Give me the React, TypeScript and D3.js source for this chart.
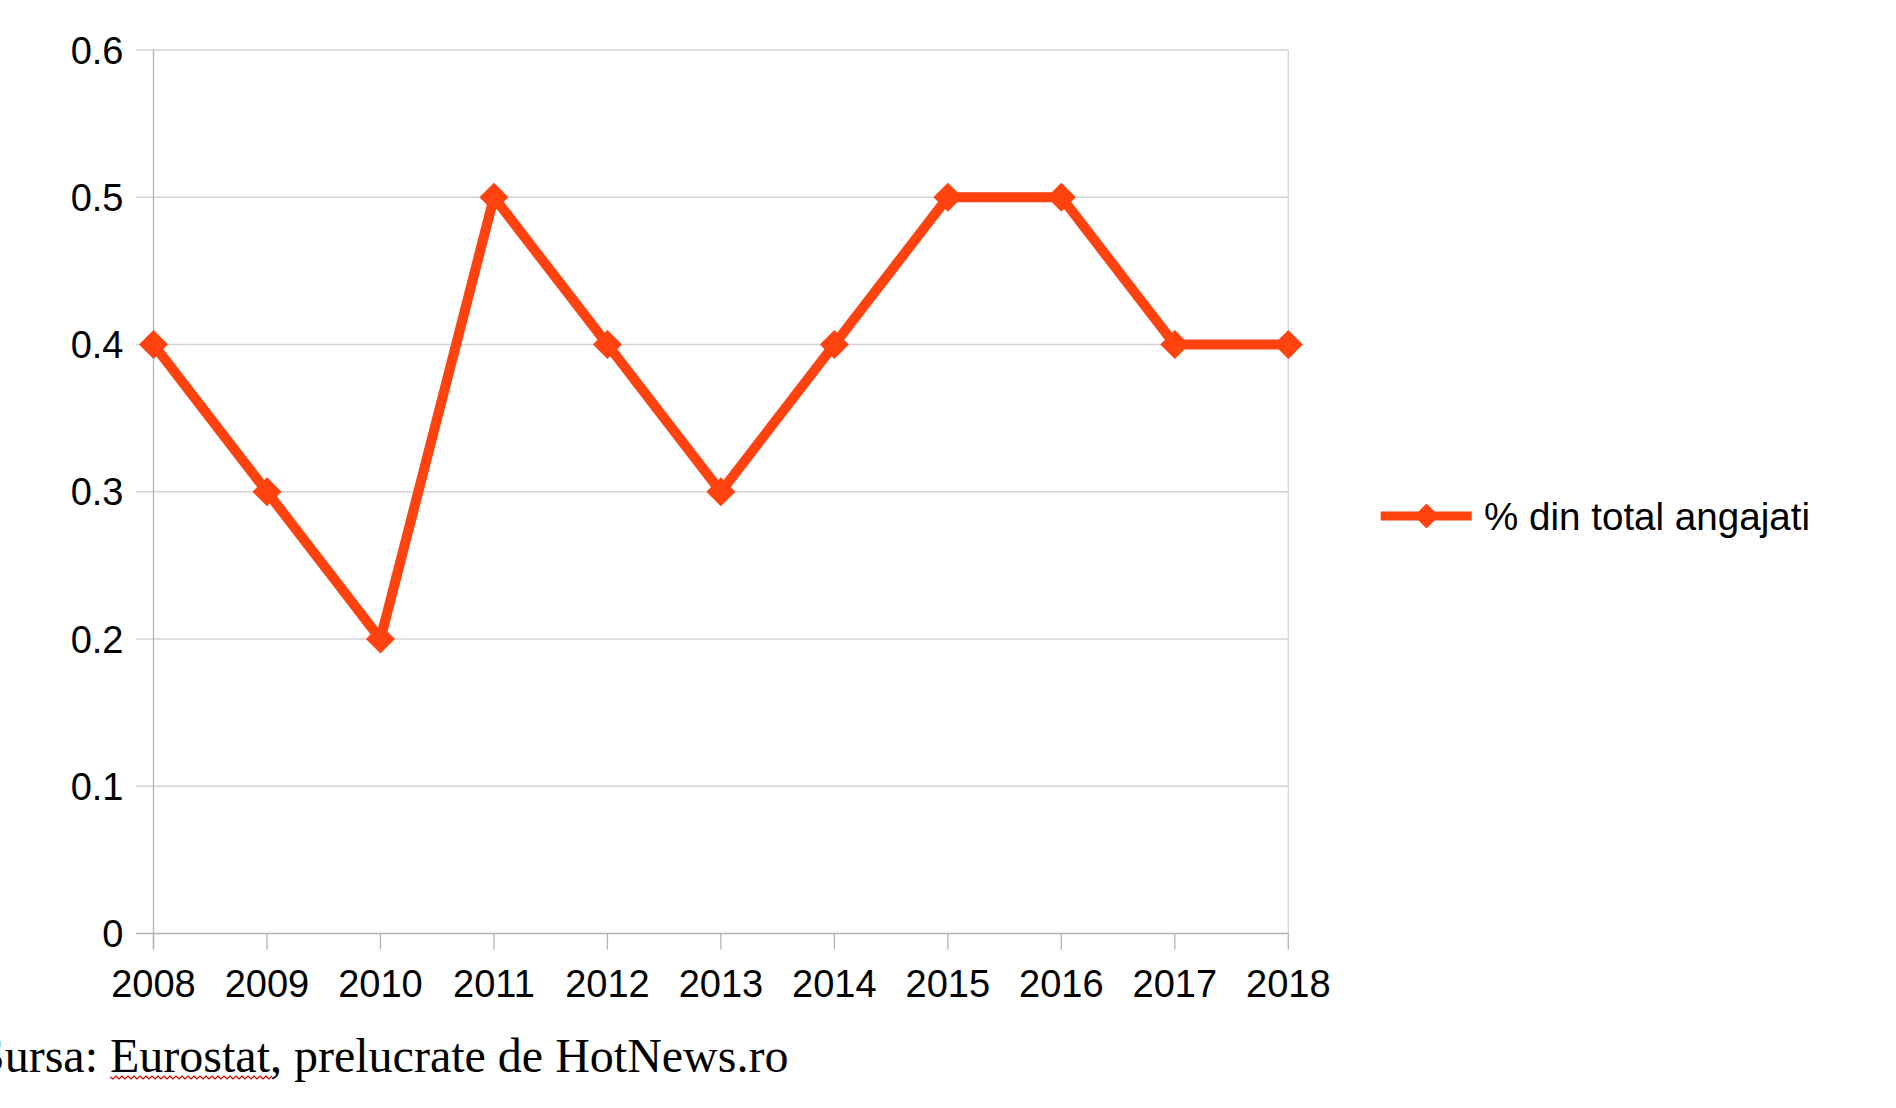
import React from "react";
import * as d3 from "d3";

const years = ["2008", "2009", "2010", "2011", "2012", "2013", "2014", "2015", "2016", "2017", "2018"];
const values = [0.4, 0.3, 0.2, 0.5, 0.4, 0.3, 0.4, 0.5, 0.5, 0.4, 0.4];
const yTicks = [0, 0.1, 0.2, 0.3, 0.4, 0.5, 0.6];
const seriesName = "% din total angajati";
const sourceText = "Sursa: Eurostat, prelucrate de HotNews.ro";

const W = 1896;
const H = 1108;
const COLOR = "#ff420e";
const SANS = "'Liberation Sans', Arial, sans-serif";
const SERIF = "'Liberation Serif', 'Times New Roman', serif";

export default function App() {
  const x = d3.scalePoint<string>().domain(years).range([153.5, 1288.3]);
  const y = d3.scaleLinear().domain([0, 0.6]).range([933.5, 50]);
  const line = d3
    .line<number>()
    .x((_, i) => x(years[i]) as number)
    .y((d) => y(d));

  const diamond = (cx: number, cy: number, r: number) =>
    `M${cx},${cy - r}L${cx + r},${cy}L${cx},${cy + r}L${cx - r},${cy}Z`;

  // wavy spell-check underline under "Eurostat"
  const waveStart = 110;
  const waveEnd = 270;
  const waveY = 1077;
  let wave = `M${waveStart},${waveY}`;
  for (let xx = waveStart, k = 0; xx < waveEnd; xx += 3, k++) {
    wave += `L${xx + 3},${waveY + (k % 2 === 0 ? 2 : -1)}`;
  }

  return (
    <svg
      width={W}
      height={H}
      style={{ position: "absolute", left: 0, top: 0, display: "block", background: "#fff" }}
    >
      <rect x={0} y={0} width={W} height={H} fill="#fff" />
      {yTicks.map((t) => (
        <line
          key={"g" + t}
          x1={136}
          x2={1288.3}
          y1={y(t)}
          y2={y(t)}
          stroke={t === 0 ? "#b3b3b3" : "#d4d4d4"}
          strokeWidth={1.3}
        />
      ))}
      <line x1={1288.3} x2={1288.3} y1={50} y2={933.5} stroke="#d4d4d4" strokeWidth={1.3} />
      <line x1={153.5} x2={153.5} y1={50} y2={949.5} stroke="#b3b3b3" strokeWidth={1.3} />
      {years.map((yr) => (
        <line
          key={"t" + yr}
          x1={x(yr)}
          x2={x(yr)}
          y1={933.5}
          y2={949.5}
          stroke="#b3b3b3"
          strokeWidth={1.3}
        />
      ))}
      {yTicks.map((t) => (
        <text
          key={"yl" + t}
          x={123.5}
          y={y(t) + 13.6}
          textAnchor="end"
          fontFamily={SANS}
          fontSize={38}
          fill="#000"
        >
          {d3.format("")(t)}
        </text>
      ))}
      {years.map((yr) => (
        <text
          key={"xl" + yr}
          x={x(yr)}
          y={996.7}
          textAnchor="middle"
          fontFamily={SANS}
          fontSize={38}
          fill="#000"
        >
          {yr}
        </text>
      ))}
      <path
        d={line(values) || ""}
        fill="none"
        stroke={COLOR}
        strokeWidth={10}
        strokeLinejoin="miter"
      />
      {values.map((v, i) => (
        <path key={"m" + i} d={diamond(x(years[i]) as number, y(v), 14.5)} fill={COLOR} />
      ))}
      <line x1={1380.7} x2={1471.7} y1={516} y2={516} stroke={COLOR} strokeWidth={9} />
      <path d={diamond(1426.5, 516, 12.5)} fill={COLOR} />
      <text x={1484} y={530} fontFamily={SANS} fontSize={38.6} fill="#000">
        {seriesName}
      </text>
      <text x={-22} y={1071.7} fontFamily={SERIF} fontSize={48} fill="#000">
        {sourceText}
      </text>
      <path d={wave} fill="none" stroke="#d00000" strokeWidth={1.2} />
    </svg>
  );
}
